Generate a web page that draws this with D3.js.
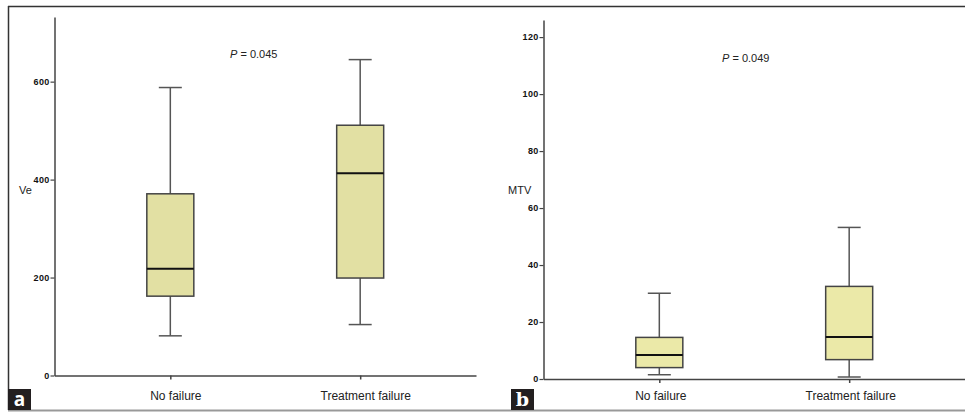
<!DOCTYPE html>
<html>
<head>
<meta charset="utf-8">
<script src="https://cdn.jsdelivr.net/npm/d3@7"></script>
<style>
  body { margin: 0; background: #fff; }
  svg { display: block; font-family: "Liberation Sans", Arial, sans-serif; }
</style>
</head>
<body>
<div id="chart"></div>
<script>
var categories = ["No failure", "Treatment failure"];

// panel a: Ve
var veMin = [81, 104];
var veQ1 = [162, 199];
var veMed = [218, 413];
var veQ3 = [371, 511];
var veMax = [588, 645];
var veTicks = [0, 200, 400, 600];

// panel b: MTV
var mtvMin = [1.5, 0.7];
var mtvQ1 = [4.0, 6.8];
var mtvMed = [8.4, 14.7];
var mtvQ3 = [14.6, 32.5];
var mtvMax = [30.1, 53.2];
var mtvTicks = [0, 20, 40, 60, 80, 100, 120];

var svg = d3.select("#chart").append("svg")
  .attr("width", 965)
  .attr("height", 414);

// frame
svg.append("line").attr("x1", 8).attr("x2", 965).attr("y1", 6.5).attr("y2", 6.5)
  .attr("stroke", "#333").attr("stroke-width", 1.5);
svg.append("line").attr("x1", 8.5).attr("x2", 8.5).attr("y1", 6).attr("y2", 410)
  .attr("stroke", "#333").attr("stroke-width", 1.5);
svg.append("line").attr("x1", 8).attr("x2", 965).attr("y1", 410.5).attr("y2", 410.5)
  .attr("stroke", "#999").attr("stroke-width", 2);

function panel(opt) {
  var g = svg.append("g");

  var y = d3.scaleLinear().domain([0, opt.yMax]).range([opt.bottom, opt.top]);
  var x = d3.scalePoint().domain(categories).range([opt.left, opt.right]).padding(0.61);

  var yAxis = g.append("g")
    .attr("transform", "translate(" + opt.left + ",0)")
    .call(d3.axisLeft(y).tickValues(opt.ticks).tickSize(4).tickSizeOuter(0).tickPadding(1));
  yAxis.select(".domain").attr("stroke", "#444").attr("stroke-width", 1.5);
  yAxis.selectAll(".tick line").attr("stroke", "#444").attr("stroke-width", 1.2);
  yAxis.selectAll(".tick text")
    .attr("font-size", "9px").attr("fill", "#111").attr("font-weight", "bold")
    .attr("font-family", "Liberation Sans, Arial, sans-serif")
    .style("letter-spacing", "0.3px");

  var xAxis = g.append("g")
    .attr("transform", "translate(0," + opt.bottom + ")")
    .call(d3.axisBottom(x).tickSize(4).tickSizeOuter(0).tickPadding(opt.labelPad));
  xAxis.select(".domain").attr("stroke", "#444").attr("stroke-width", 1.5);
  xAxis.selectAll(".tick line").attr("stroke", "#444").attr("stroke-width", 1.5);
  xAxis.selectAll(".tick text")
    .attr("font-size", "12px").attr("fill", "#222")
    .attr("font-family", "Liberation Sans, Arial, sans-serif")
    .attr("dx", opt.labelShift);

  var idx = d3.range(categories.length);
  var bw = 47, cw = 23;

  // whiskers
  g.selectAll(".whisker").data(idx).enter().append("line")
    .attr("x1", function(i) { return x(categories[i]); })
    .attr("x2", function(i) { return x(categories[i]); })
    .attr("y1", function(i) { return y(opt.min[i]); })
    .attr("y2", function(i) { return y(opt.max[i]); })
    .attr("stroke", "#555").attr("stroke-width", 1.5);

  g.selectAll(".capTop").data(idx).enter().append("line")
    .attr("x1", function(i) { return x(categories[i]) - cw / 2; })
    .attr("x2", function(i) { return x(categories[i]) + cw / 2; })
    .attr("y1", function(i) { return y(opt.max[i]); })
    .attr("y2", function(i) { return y(opt.max[i]); })
    .attr("stroke", "#555").attr("stroke-width", 1.5);

  g.selectAll(".capBot").data(idx).enter().append("line")
    .attr("x1", function(i) { return x(categories[i]) - cw / 2; })
    .attr("x2", function(i) { return x(categories[i]) + cw / 2; })
    .attr("y1", function(i) { return y(opt.min[i]); })
    .attr("y2", function(i) { return y(opt.min[i]); })
    .attr("stroke", "#555").attr("stroke-width", 1.5);

  g.selectAll(".box").data(idx).enter().append("rect")
    .attr("x", function(i) { return x(categories[i]) - bw / 2; })
    .attr("width", bw)
    .attr("y", function(i) { return y(opt.q3[i]); })
    .attr("height", function(i) { return y(opt.q1[i]) - y(opt.q3[i]); })
    .attr("fill", opt.fill).attr("stroke", "#444").attr("stroke-width", 1.5);

  g.selectAll(".median").data(idx).enter().append("line")
    .attr("x1", function(i) { return x(categories[i]) - bw / 2; })
    .attr("x2", function(i) { return x(categories[i]) + bw / 2; })
    .attr("y1", function(i) { return y(opt.med[i]); })
    .attr("y2", function(i) { return y(opt.med[i]); })
    .attr("stroke", "#111").attr("stroke-width", 2);

  // y label
  g.append("text").attr("x", opt.yLabelX).attr("y", 194)
    .attr("font-size", "11px").attr("fill", "#222").text(opt.yLabel);

  // p value
  var p = g.append("text").attr("x", opt.pX).attr("y", opt.pY)
    .attr("font-size", "11px").attr("fill", "#222");
  p.append("tspan").attr("font-style", "italic").text("P");
  p.append("tspan").text(" = " + opt.pText);

  // panel letter
  g.append("rect").attr("x", opt.tagX).attr("y", 389).attr("width", 23).attr("height", 21)
    .attr("fill", "#231f20");
  g.append("text").attr("x", opt.tagX + 11.5).attr("y", 406)
    .attr("text-anchor", "middle").attr("fill", "#fff")
    .attr("font-size", "19px").attr("font-weight", "bold")
    .attr("font-family", opt.tagFont)
    .text(opt.tag);
}

panel({
  left: 54.5, right: 476, top: 17, bottom: 375.5, yMax: 732,
  ticks: veTicks, min: veMin, q1: veQ1, med: veMed, q3: veQ3, max: veMax,
  fill: "#e2e0a3", yLabel: "Ve", yLabelX: 19, pText: "0.045", pX: 230, pY: 58,
  labelPad: 12, labelShift: 5, tag: "a", tagX: 8, tagFont: "Open Sans, DejaVu Sans, sans-serif"
});

panel({
  left: 543.5, right: 965, top: 20, bottom: 379, yMax: 126,
  ticks: mtvTicks, min: mtvMin, q1: mtvQ1, med: mtvMed, q3: mtvQ3, max: mtvMax,
  fill: "#ebe9a8", yLabel: "MTV", yLabelX: 508, pText: "0.049", pX: 722, pY: 62,
  labelPad: 8.5, labelShift: 1, tag: "b", tagX: 511, tagFont: "DejaVu Serif, serif"
});
</script>
</body>
</html>
